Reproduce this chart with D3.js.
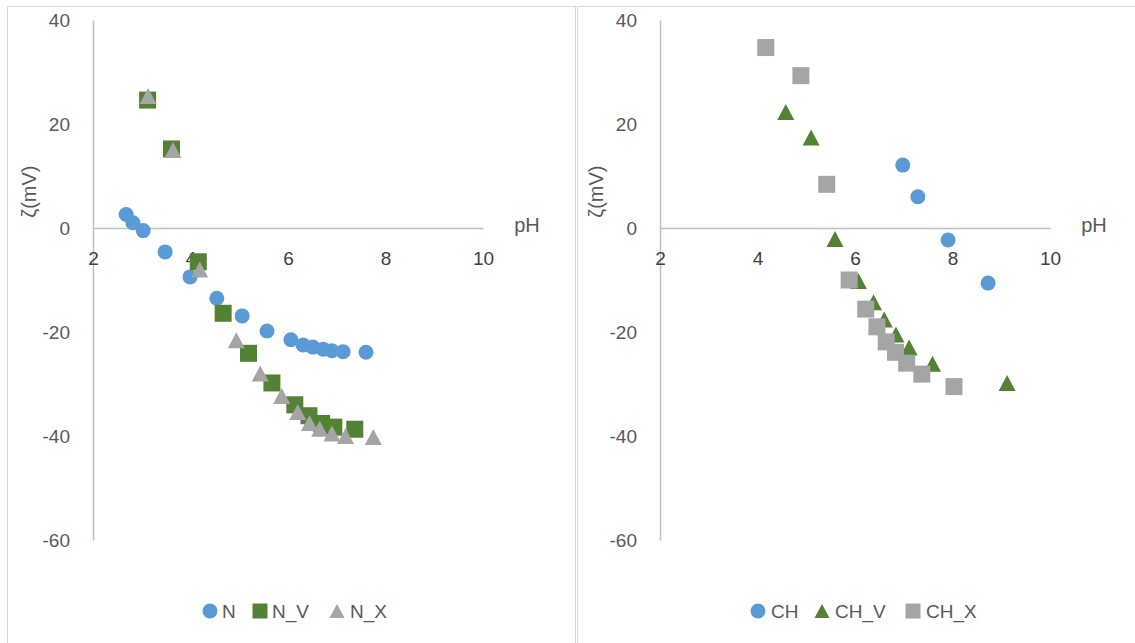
<!DOCTYPE html>
<html><head><meta charset="utf-8">
<script src="https://cdn.jsdelivr.net/npm/d3@7"></script>
<style>body{margin:0;background:#fff}svg{display:block}text{font-family:"Liberation Sans",Arial,sans-serif}</style>
</head><body>
<svg id="c" width="1135" height="643"></svg>
<script>
// ---- data ----
const xTicks = [2, 4, 6, 8, 10];
const yTicks = [40, 20, 0, -20, -40, -60];
const yLabel = "ζ(mV)";
const xLabel = "pH";

const N_pH   = [2.68, 2.82, 3.03, 3.48, 3.99, 4.54, 5.06, 5.57, 6.06, 6.31, 6.51, 6.72, 6.90, 7.13, 7.60];
const N_zeta = [2.6, 1.0, -0.5, -4.6, -9.4, -13.5, -16.9, -19.8, -21.5, -22.5, -22.9, -23.3, -23.6, -23.8, -23.9];

const NV_pH   = [3.12, 3.61, 4.16, 4.67, 5.19, 5.67, 6.14, 6.43, 6.69, 6.94, 7.37];
const NV_zeta = [24.6, 15.2, -6.5, -16.4, -24.1, -29.8, -34.0, -36.1, -37.6, -38.3, -38.7];

const NX_pH   = [3.13, 3.64, 4.19, 4.94, 5.43, 5.87, 6.20, 6.44, 6.65, 6.90, 7.18, 7.75];
const NX_zeta = [25.4, 15.0, -8.0, -21.6, -28.0, -32.3, -35.4, -37.5, -38.6, -39.5, -40.0, -40.2];

const CH_pH   = [6.98, 7.29, 7.91, 8.73];
const CH_zeta = [12.1, 6.0, -2.3, -10.6];

const CHV_pH   = [4.58, 5.10, 5.59, 6.07, 6.38, 6.60, 6.84, 7.11, 7.59, 9.12];
const CHV_zeta = [22.3, 17.4, -2.1, -10.2, -14.3, -17.6, -20.5, -23.0, -26.1, -29.8];

const CHX_pH   = [4.17, 4.89, 5.42, 5.88, 6.22, 6.45, 6.64, 6.83, 7.06, 7.37, 8.03];
const CHX_zeta = [34.7, 29.3, 8.4, -10.0, -15.6, -19.0, -21.9, -23.9, -26.0, -28.1, -30.5];

const BLUE = "#5B9BD5", GREEN = "#548235", GRAY = "#A5A5A5";

const leftSeries = [
  {name: "N",   x: N_pH,  y: N_zeta,  shape: "circle",   color: BLUE},
  {name: "N_V", x: NV_pH, y: NV_zeta, shape: "square",   color: GREEN},
  {name: "N_X", x: NX_pH, y: NX_zeta, shape: "triangle", color: GRAY}
];
const rightSeries = [
  {name: "CH",   x: CH_pH,  y: CH_zeta,  shape: "circle",   color: BLUE},
  {name: "CH_V", x: CHV_pH, y: CHV_zeta, shape: "triangle", color: GREEN},
  {name: "CH_X", x: CHX_pH, y: CHX_zeta, shape: "square",   color: GRAY}
];

const svg = d3.select("#c");
const fmt = d => String(d);

function shapePath(shape, s) {
  if (shape === "circle") {
    const r = s / 2;
    return `M${-r},0A${r},${r} 0 1,0 ${r},0A${r},${r} 0 1,0 ${-r},0Z`;
  }
  if (shape === "square") {
    const h = s / 2;
    return `M${-h},${-h}H${h}V${h}H${-h}Z`;
  }
  const w = s / 2, h = s * 0.47;
  return `M0,${-h}L${w},${h}L${-w},${h}Z`;
}

function panel(series, x0, legendItems) {
  const x = d3.scaleLinear().domain([2, 10]).range([x0, x0 + 390]);
  const y = d3.scaleLinear().domain([-60, 40]).range([540, 20]);
  const g = svg.append("g");

  // y axis
  const ya = g.append("g").attr("transform", `translate(${x0},0)`)
    .call(d3.axisLeft(y).tickValues(yTicks).tickSize(0).tickPadding(23).tickFormat(fmt));
  ya.select(".domain").attr("stroke", "#BFBFBF").attr("stroke-width", 1.5);
  ya.selectAll("text").attr("fill", "#595959").style("font-size", "19px").style("font-family", "Liberation Sans, Arial");

  // x axis at y=0
  const xa = g.append("g").attr("transform", `translate(0,${y(0)})`)
    .call(d3.axisBottom(x).tickValues(xTicks).tickSize(0).tickPadding(24).tickFormat(fmt));
  xa.select(".domain").attr("stroke", "#BFBFBF").attr("stroke-width", 1.5);
  xa.selectAll("text").attr("fill", "#404040").style("font-size", "19px").style("font-family", "Liberation Sans, Arial");

  g.append("text").attr("x", x0 + 434).attr("y", y(0) + 4).attr("text-anchor", "middle")
    .attr("fill", "#595959").style("font-size", "20px").text(xLabel);
  g.append("text").attr("transform", `translate(${x0 - 57},${y(7)}) rotate(-90)`).attr("text-anchor", "middle")
    .attr("fill", "#595959").style("font-size", "20px").text(yLabel);

  series.forEach(s => {
    const pts = s.x.map((v, i) => [v, s.y[i]]);
    g.append("g").selectAll("path").data(pts).join("path")
      .attr("transform", d => `translate(${x(d[0])},${y(d[1])})`)
      .attr("d", shapePath(s.shape, s.shape === "circle" ? 15 : 17))
      .attr("fill", s.color);
  });

  // legend
  const lg = g.append("g");
  legendItems.forEach(it => {
    const s = series.find(q => q.name === it.name);
    lg.append("path").attr("transform", `translate(${it.mx},611)`).attr("d", shapePath(s.shape, 15)).attr("fill", s.color);
    lg.append("text").attr("x", it.tx).attr("y", 611).attr("dy", "0.35em").attr("fill", "#595959")
      .style("font-size", "19px").text(s.name);
  });
}

// panel frames
svg.append("rect").attr("x", 7.5).attr("y", 6.5).attr("width", 568).attr("height", 700)
  .attr("fill", "none").attr("stroke", "#D9D9D9");
svg.append("rect").attr("x", 577.5).attr("y", 6.5).attr("width", 600).attr("height", 700)
  .attr("fill", "none").attr("stroke", "#D9D9D9");

panel(leftSeries, 93, [
  {name: "N", mx: 210, tx: 222},
  {name: "N_V", mx: 260, tx: 272},
  {name: "N_X", mx: 337, tx: 350}
]);
panel(rightSeries, 660, [
  {name: "CH", mx: 758, tx: 771},
  {name: "CH_V", mx: 822, tx: 835},
  {name: "CH_X", mx: 913, tx: 926}
]);
</script>
</body></html>
